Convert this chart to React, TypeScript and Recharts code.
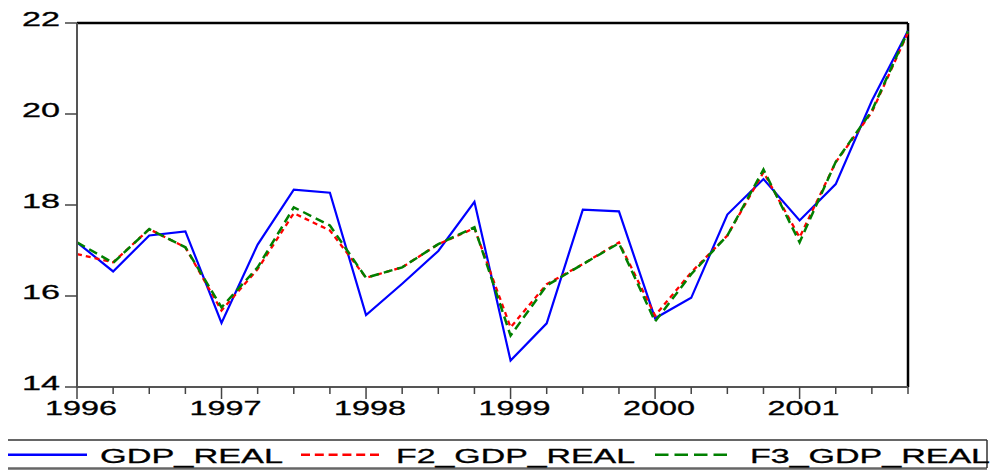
import React from "react";
import { LineChart, Line, XAxis, YAxis, ReferenceLine, Legend } from "recharts";

const quarters = [
  "1996Q1", "1996Q2", "1996Q3", "1996Q4",
  "1997Q1", "1997Q2", "1997Q3", "1997Q4",
  "1998Q1", "1998Q2", "1998Q3", "1998Q4",
  "1999Q1", "1999Q2", "1999Q3", "1999Q4",
  "2000Q1", "2000Q2", "2000Q3", "2000Q4",
  "2001Q1", "2001Q2", "2001Q3", "2001Q4",
];
const gdpReal = [17.18, 16.54, 17.33, 17.42, 15.41, 17.13, 18.34, 18.27, 15.58, 16.27, 16.99, 18.07, 14.58, 15.4, 17.9, 17.86, 15.51, 15.96, 17.79, 18.57, 17.66, 18.46, 20.29, 21.83];
const f2GdpReal = [16.92, 16.74, 17.47, 17.07, 15.68, 16.59, 17.82, 17.44, 16.4, 16.63, 17.14, 17.49, 15.31, 16.26, 16.7, 17.18, 15.57, 16.52, 17.33, 18.72, 17.29, 18.94, 20.04, 21.79];
const f3GdpReal = [17.18, 16.73, 17.47, 17.07, 15.75, 16.63, 17.95, 17.55, 16.4, 16.63, 17.14, 17.51, 15.13, 16.23, 16.7, 17.16, 15.44, 16.48, 17.33, 18.78, 17.18, 18.95, 20.07, 21.82];
const yTicks = [14, 16, 18, 20, 22];
const seriesNames = ["GDP_REAL", "F2_GDP_REAL", "F3_GDP_REAL"];

const data = quarters.map((q, i) => ({
  t: i,
  q,
  GDP_REAL: gdpReal[i],
  F2_GDP_REAL: f2GdpReal[i],
  F3_GDP_REAL: f3GdpReal[i],
}));
const xTicks = quarters.map((_, i) => i);

const FONT = "'Liberation Sans', Arial, sans-serif";

const XTick = (props: any) => {
  const { x, y, payload } = props;
  const label = quarters[payload.value] || "";
  const isYear = label.endsWith("Q1");
  return (
    <g>
      <line x1={x} x2={x} y1={y} y2={y + (isYear ? 12 : 7)} stroke="#444" strokeWidth={1.5} />
      {isYear && (
        <text
          x={x + 4}
          y={y + 28}
          textAnchor="middle"
          fontFamily={FONT}
          fontSize={20}
          fill="#000"
          stroke="#000"
          strokeWidth={0.3}
          textLength={72}
          lengthAdjust="spacingAndGlyphs"
        >
          {label.slice(0, 4)}
        </text>
      )}
    </g>
  );
};

const YTick = (props: any) => {
  const { x, y, payload } = props;
  return (
    <g>
      <line x1={x - 12} x2={x} y1={y} y2={y} stroke="#444" strokeWidth={1.5} />
      <text
        x={x - 55}
        y={y + 3}
        textAnchor="start"
        fontFamily={FONT}
        fontSize={20}
        fill="#000"
        stroke="#000"
        strokeWidth={0.3}
        textLength={38}
        lengthAdjust="spacingAndGlyphs"
      >
        {payload.value}
      </text>
    </g>
  );
};

const legendStyles = [
  { color: "#0000ff", dash: undefined as string | undefined, x1: 8, x2: 87, tx: 100, tl: 183 },
  { color: "#ff0000", dash: "9 4.8", x1: 301, x2: 380, tx: 396, tl: 239 },
  { color: "#008000", dash: "13.5 6", x1: 655, x2: 727, tx: 750, tl: 240 },
];

const LegendContent = () => (
  <svg width={992} height={37} style={{ display: "block" }}>
    <line x1={8} x2={987} y1={4} y2={4} stroke="#333" strokeWidth={1.5} />
    <line x1={8} x2={987} y1={32.5} y2={32.5} stroke="#666" strokeWidth={2.5} />
    <line x1={987} x2={987} y1={4} y2={32} stroke="#333" strokeWidth={1.5} />
    {seriesNames.map((name, i) => {
      const s = legendStyles[i];
      return (
        <g key={name}>
          <line x1={s.x1} x2={s.x2} y1={18.8} y2={18.8} stroke={s.color} strokeWidth={2.5} strokeDasharray={s.dash} />
          <text
            x={s.tx}
            y={27}
            fontFamily={FONT}
            fontSize={20}
            fill="#000"
            stroke="#000"
            strokeWidth={0.3}
            textLength={s.tl}
            lengthAdjust="spacingAndGlyphs"
          >
            {name}
          </text>
        </g>
      );
    })}
  </svg>
);

export default function App() {
  return (
    <div style={{ position: "absolute", left: 0, top: 0, width: 992, height: 473, background: "#fff" }}>
      <LineChart width={992} height={473} data={data} margin={{ top: 23, right: 84, bottom: 0, left: 0 }}>
        <XAxis
          dataKey="t"
          type="number"
          domain={[0, 23]}
          ticks={xTicks}
          interval={0}
          height={86}
          tickLine={false}
          tickSize={0}
          tickMargin={0}
          axisLine={{ stroke: "#555", strokeWidth: 2 }}
          tick={<XTick />}
        />
        <YAxis
          type="number"
          domain={[14, 22]}
          ticks={yTicks}
          width={77}
          tickLine={false}
          tickSize={0}
          tickMargin={0}
          axisLine={{ stroke: "#555", strokeWidth: 2 }}
          tick={<YTick />}
        />
        <ReferenceLine y={22} stroke="#000" strokeWidth={2.5} />
        <ReferenceLine x={23} stroke="#000" strokeWidth={2.5} />
        <Line type="linear" dataKey="GDP_REAL" stroke="#0000ff" strokeWidth={2.2} dot={false} isAnimationActive={false} />
        <Line type="linear" dataKey="F2_GDP_REAL" stroke="#ff0000" strokeWidth={2.3} strokeDasharray="5 4" dot={false} isAnimationActive={false} />
        <Line type="linear" dataKey="F3_GDP_REAL" stroke="#008000" strokeWidth={2.5} strokeDasharray="9 5" dot={false} isAnimationActive={false} />
        <Legend
          layout="horizontal"
          verticalAlign="middle"
          align="center"
          content={<LegendContent />}
          wrapperStyle={{ left: 0, top: 436, width: 992, height: 37, margin: 0, padding: 0 }}
        />
      </LineChart>
    </div>
  );
}
